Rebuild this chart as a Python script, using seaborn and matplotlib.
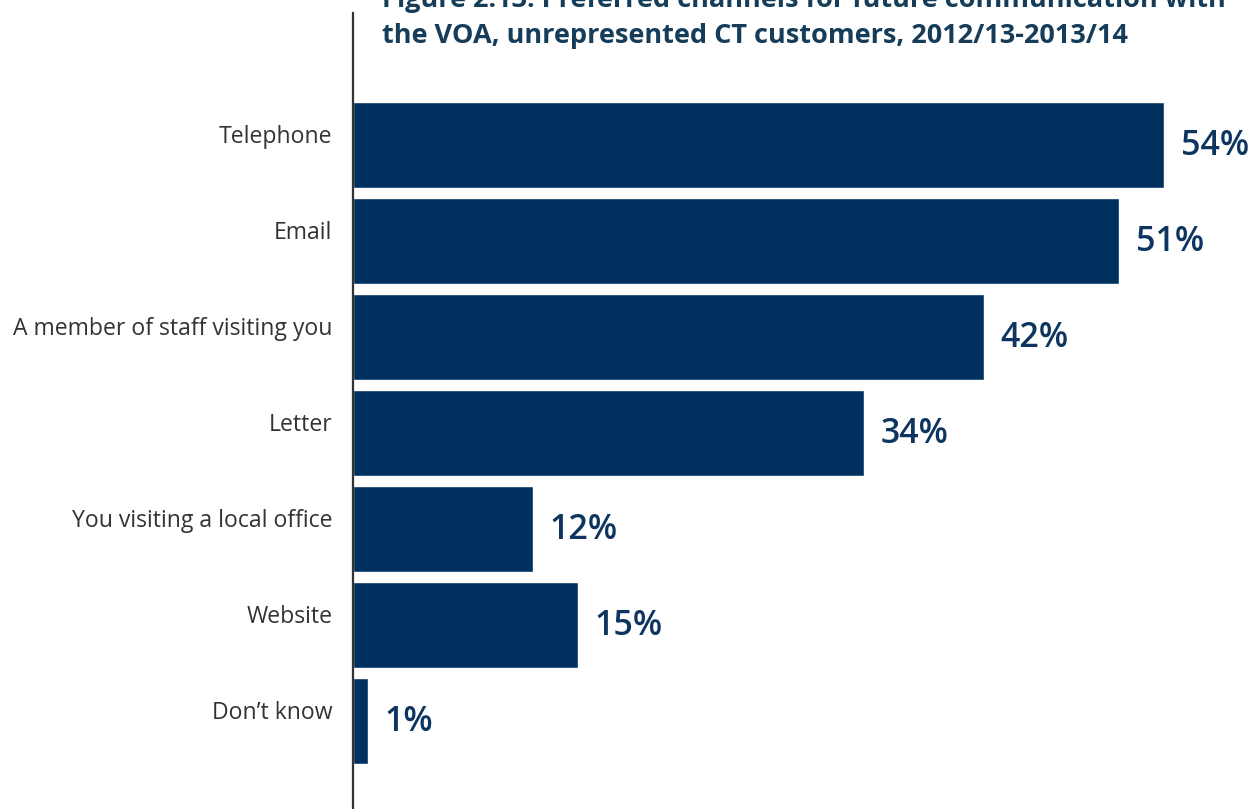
import matplotlib
matplotlib.use("Agg")
import matplotlib.pyplot as plt
import matplotlib.transforms as mtransforms
import seaborn as sns
import pandas as pd

channels = [
    "Telephone",
    "Email",
    "A member of staff visiting you",
    "Letter",
    "You visiting a local office",
    "Website",
    "Don\u2019t know",
]
shares = [54, 51, 42, 34, 12, 15, 1]
title_lines = [
    "Figure 2.13: Preferred channels for future communication with",
    "the VOA, unrepresented CT customers, 2012/13-2013/14",
]

bar_color = "#00305e"
value_color = "#0e3560"
title_color = "#153d5a"
label_color = "#333333"

sns.set_theme(style="white")
plt.rcParams["font.family"] = ["Open Sans", "DejaVu Sans"]

df = pd.DataFrame({"channel": channels, "share": shares})

W, H, DPI = 1253, 809, 100
fig = plt.figure(figsize=(W / DPI, H / DPI), dpi=DPI)
ax = fig.add_axes([353 / W, 0.0, 1 - 353 / W, 1 - 13 / H])

sns.barplot(data=df, x="share", y="channel", orient="h", color=bar_color,
            saturation=1, width=0.896, ax=ax)

ax.set_xlim(0, (W - 353) / 15.02)
ax.set_ylim(6.917, -1.375)
ax.set_xlabel("")
ax.set_ylabel("")
ax.set_xticks([])

for side in ["top", "right", "bottom"]:
    ax.spines[side].set_visible(False)
ax.spines["left"].set_color("#333333")
ax.spines["left"].set_linewidth(1.6)

ax.tick_params(axis="y", length=0, pad=15, labelsize=16.6, labelcolor=label_color)
shift = mtransforms.ScaledTranslation(0, 11 / DPI, fig.dpi_scale_trans)
for lbl in ax.get_yticklabels():
    lbl.set_transform(lbl.get_transform() + shift)

for i, v in enumerate(shares):
    ax.annotate(f"{v}%", xy=(v, i), xytext=(12, -1), textcoords="offset points",
                ha="left", va="center", fontsize=24.5, fontweight="semibold",
                color=value_color)

fig.text(382 / W, 1 - 7 / H, title_lines[0], ha="left", va="baseline",
         fontsize=19.5, fontweight="bold", color=title_color)
fig.text(382 / W, 1 - 43 / H, title_lines[1], ha="left", va="baseline",
         fontsize=19.5, fontweight="bold", color=title_color)

fig.savefig("out.png", dpi=DPI)
